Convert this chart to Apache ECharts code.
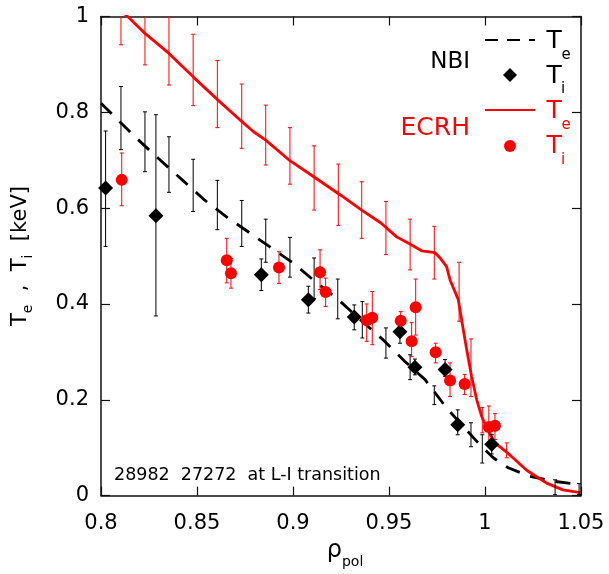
<!DOCTYPE html>
<html>
<head>
<meta charset="utf-8">
<script src="https://cdn.jsdelivr.net/npm/echarts/dist/echarts.min.js"></script>
<style>
  html, body { margin: 0; padding: 0; background: #fff; }
  #main { width: 609px; height: 574px; }
</style>
</head>
<body>
<div id="main"></div>
<script>
// NBI, electron temperature profile (dashed black)
const nbiTeRho = [0.800, 0.8177, 0.8298, 0.8423, 0.8542, 0.8663, 0.8776, 0.888, 0.9002, 0.9115, 0.9236, 0.934, 0.947, 0.9583, 0.9688, 0.980, 0.9885, 0.9974, 1.0043, 1.0121, 1.0234, 1.0356, 1.0495];
const nbiTe = [0.819, 0.749, 0.704, 0.659, 0.616, 0.579, 0.548, 0.519, 0.485, 0.447, 0.409, 0.371, 0.325, 0.280, 0.242, 0.183, 0.145, 0.106, 0.079, 0.058, 0.040, 0.030, 0.023];
// NBI Te error bars
const nbiTeErrRho = [0.8104, 0.8229, 0.8354, 0.848, 0.8606, 0.8733, 0.8858, 0.8984, 0.911, 0.9233, 0.9361, 0.9484, 0.961, 0.9736, 0.9927, 0.9986, 1.0365, 1.049];
const nbiTeErrLo = [0.722, 0.676, 0.633, 0.593, 0.555, 0.520, 0.487, 0.456, 0.411, 0.369, 0.329, 0.287, 0.242, 0.190, 0.102, 0.068, 0.002, 0.002];
const nbiTeErrHi = [0.854, 0.801, 0.749, 0.702, 0.658, 0.616, 0.577, 0.539, 0.496, 0.452, 0.405, 0.350, 0.294, 0.229, 0.152, 0.127, 0.033, 0.025];

// NBI, ion temperature (diamonds)
const nbiTiRho = [0.8024, 0.8286, 0.8835, 0.908, 0.9319, 0.9557, 0.9635, 0.9792, 0.9858, 1.0035];
const nbiTi = [0.642, 0.584, 0.461, 0.409, 0.373, 0.342, 0.268, 0.263, 0.148, 0.107];
const nbiTiLo = [0.520, 0.375, 0.428, 0.381, 0.346, 0.318, 0.252, 0.249, 0.127, 0.087];
const nbiTiHi = [0.761, 0.795, 0.494, 0.437, 0.398, 0.353, 0.285, 0.284, 0.179, 0.127];

// ECRH, electron temperature profile (red line)
const ecrhTeRho = [0.8104, 0.8139, 0.822, 0.8354, 0.848, 0.8608, 0.8733, 0.8793, 0.8858, 0.8984, 0.911, 0.9245, 0.9358, 0.9458, 0.954, 0.9609, 0.967, 0.974, 0.9766, 0.980, 0.9818, 0.9861, 0.9887, 0.9905, 0.993, 0.9957, 0.9983, 1.0013, 1.0052, 1.0121, 1.0217, 1.0321, 1.0406, 1.0495];
const ecrhTe = [1.012, 1.000, 0.968, 0.923, 0.874, 0.826, 0.781, 0.760, 0.742, 0.699, 0.665, 0.628, 0.596, 0.569, 0.540, 0.525, 0.511, 0.507, 0.496, 0.478, 0.450, 0.409, 0.346, 0.304, 0.249, 0.200, 0.165, 0.138, 0.110, 0.088, 0.053, 0.026, 0.012, 0.006];
// ECRH Te error bars
const ecrhTeErrRho = [0.8104, 0.8229, 0.8354, 0.848, 0.8606, 0.8733, 0.8858, 0.8984, 0.911, 0.9236, 0.9358, 0.9484, 0.961, 0.9736, 0.9865, 0.9927, 0.9986, 1.0113];
const ecrhTeErrLo = [0.941, 0.899, 0.857, 0.814, 0.768, 0.725, 0.690, 0.650, 0.596, 0.564, 0.537, 0.503, 0.471, 0.452, 0.364, 0.207, 0.131, 0.079];
const ecrhTeErrHi = [1.080, 1.030, 1.000, 0.963, 0.908, 0.859, 0.815, 0.768, 0.730, 0.692, 0.655, 0.614, 0.577, 0.562, 0.487, 0.327, 0.184, 0.110];

// ECRH, ion temperature (red dots)
const ecrhTiRho = [0.8108, 0.8655, 0.8677, 0.8927, 0.9141, 0.917, 0.9384, 0.9413, 0.9561, 0.9618, 0.9639, 0.9743, 0.9818, 0.9894, 1.002, 1.0052];
const ecrhTi = [0.659, 0.491, 0.464, 0.476, 0.466, 0.425, 0.366, 0.371, 0.365, 0.322, 0.393, 0.299, 0.240, 0.233, 0.143, 0.146];
const ecrhTiLo = [0.605, 0.444, 0.433, 0.443, 0.430, 0.395, 0.322, 0.315, 0.345, 0.290, 0.335, 0.277, 0.207, 0.211, 0.111, 0.117];
const ecrhTiHi = [0.715, 0.537, 0.495, 0.509, 0.513, 0.454, 0.400, 0.426, 0.384, 0.361, 0.452, 0.318, 0.277, 0.253, 0.187, 0.171];

const FONT = 'DejaVu Sans';

function zip(a, b) {
  return a.map(function (v, i) { return [v, b[i]]; });
}
function zip3(a, b, c) {
  return a.map(function (v, i) { return [v, b[i], c[i]]; });
}

// vertical error bar with small caps
function errorBar(color, cap) {
  return function (params, api) {
    var x = api.value(0);
    var lo = api.coord([x, api.value(1)]);
    var hi = api.coord([x, api.value(2)]);
    var st = { stroke: color, lineWidth: 1 };
    return {
      type: 'group',
      children: [
        { type: 'line', shape: { x1: lo[0], y1: lo[1], x2: hi[0], y2: hi[1] }, style: st },
        { type: 'line', shape: { x1: lo[0] - cap, y1: lo[1], x2: lo[0] + cap, y2: lo[1] }, style: st },
        { type: 'line', shape: { x1: hi[0] - cap, y1: hi[1], x2: hi[0] + cap, y2: hi[1] }, style: st }
      ]
    };
  };
}

function txt(x, y, s, size, color, align) {
  return {
    type: 'text', x: x, y: y, silent: true,
    style: {
      text: s, font: size + 'px "' + FONT + '"', fill: color,
      align: align || 'left', verticalAlign: 'middle',
      textAlign: align || 'left', textVerticalAlign: 'middle'
    }
  };
}

var chart = echarts.init(document.getElementById('main'));

var axisCommon = {
  type: 'value',
  axisLine: { show: true, onZero: false, lineStyle: { color: '#111', width: 1.5 } },
  axisTick: { show: true, inside: true, length: 9, lineStyle: { color: '#111', width: 1.2 } },
  splitLine: { show: false }
};

var option = {
  animation: false,
  backgroundColor: '#fff',
  grid: { left: 101, right: 28, top: 16.5, bottom: 78 },
  xAxis: [
    Object.assign({}, axisCommon, {
      position: 'bottom', min: 0.8, max: 1.05, interval: 0.05,
      axisLabel: { margin: 17, color: '#000', fontFamily: FONT, fontSize: 21 },
      name: '{a|ρ}{b|pol}',
      nameLocation: 'middle',
      nameGap: 34,
      nameTextStyle: {
        color: '#000', fontFamily: FONT, fontSize: 24, padding: [0, 0, 0, 8],
        rich: {
          a: { fontFamily: FONT, fontSize: 24, color: '#000' },
          b: { fontFamily: FONT, fontSize: 14, color: '#000', padding: [23, 0, 0, 0] }
        }
      }
    }),
    Object.assign({}, axisCommon, {
      position: 'top', min: 0.8, max: 1.05, interval: 0.05,
      axisLabel: { show: false }
    })
  ],
  yAxis: [
    Object.assign({}, axisCommon, {
      position: 'left', min: 0, max: 1, interval: 0.2,
      axisLabel: { margin: 12, color: '#000', fontFamily: FONT, fontSize: 21 },
      name: '{a|T}{b|e}{a|  ,  T}{b|i}{a|  [keV]}',
      nameLocation: 'middle',
      nameGap: 66,
      nameTextStyle: {
        color: '#000', fontFamily: FONT, fontSize: 21,
        rich: {
          a: { fontFamily: FONT, fontSize: 21, color: '#000' },
          b: { fontFamily: FONT, fontSize: 14, color: '#000', padding: [14, 0, 0, 0] }
        }
      }
    }),
    Object.assign({}, axisCommon, {
      position: 'right', min: 0, max: 1, interval: 0.2,
      axisLabel: { show: false }
    })
  ],
  series: [
    {
      name: 'NBI Te', type: 'line', data: zip(nbiTeRho, nbiTe),
      showSymbol: false, symbol: 'none', z: 2, silent: true,
      lineStyle: { color: '#000', width: 2.8, type: [15, 11] }
    },
    {
      name: 'ECRH Te', type: 'line', data: zip(ecrhTeRho, ecrhTe),
      showSymbol: false, symbol: 'none', z: 2, silent: true,
      lineStyle: { color: '#ff0000', width: 2.8 }
    },
    {
      type: 'custom', renderItem: errorBar('#000', 2), clip: true, z: 3, silent: true,
      data: zip3(nbiTeErrRho, nbiTeErrLo, nbiTeErrHi), encode: { x: 0, y: [1, 2] }
    },
    {
      type: 'custom', renderItem: errorBar('#ff0000', 2), clip: true, z: 3, silent: true,
      data: zip3(ecrhTeErrRho, ecrhTeErrLo, ecrhTeErrHi), encode: { x: 0, y: [1, 2] }
    },
    {
      type: 'custom', renderItem: errorBar('#000', 2), clip: true, z: 3, silent: true,
      data: zip3(nbiTiRho, nbiTiLo, nbiTiHi), encode: { x: 0, y: [1, 2] }
    },
    {
      type: 'custom', renderItem: errorBar('#ff0000', 2), clip: true, z: 3, silent: true,
      data: zip3(ecrhTiRho, ecrhTiLo, ecrhTiHi), encode: { x: 0, y: [1, 2] }
    },
    {
      name: 'NBI Ti', type: 'scatter', data: zip(nbiTiRho, nbiTi),
      symbol: 'diamond', symbolSize: 15, z: 4, silent: true,
      itemStyle: { color: '#000', opacity: 1 }
    },
    {
      name: 'ECRH Ti', type: 'scatter', data: zip(ecrhTiRho, ecrhTi),
      symbol: 'circle', symbolSize: 12, z: 4, silent: true,
      itemStyle: { color: '#ff0000', opacity: 1 }
    }
  ],
  graphic: [
    txt(470, 62, 'NBI', 23, '#000', 'right'),
    txt(470, 128.5, 'ECRH', 25, '#ff0000', 'right'),
    { type: 'line', silent: true, shape: { x1: 485, y1: 40, x2: 535, y2: 40 },
      style: { stroke: '#000', lineWidth: 2, lineDash: [13, 9] } },
    txt(546.5, 41, 'T', 25, '#000'),
    txt(561.5, 55, 'e', 15, '#000'),
    { type: 'polygon', silent: true, shape: { points: [[510, 68], [517, 75], [510, 82], [503, 75]] },
      style: { fill: '#000' } },
    txt(546.5, 76, 'T', 25, '#000'),
    txt(561, 89, 'i', 15, '#000'),
    { type: 'line', silent: true, shape: { x1: 485, y1: 110, x2: 535, y2: 110 },
      style: { stroke: '#ff0000', lineWidth: 2 } },
    txt(546.5, 111, 'T', 25, '#ff0000'),
    txt(561.5, 125.5, 'e', 15, '#ff0000'),
    { type: 'circle', silent: true, shape: { cx: 510, cy: 146, r: 6 }, style: { fill: '#ff0000' } },
    txt(546.5, 146.5, 'T', 25, '#ff0000'),
    txt(561, 160, 'i', 15, '#ff0000'),
    txt(114, 475.5, '28982  27272  at L-I transition', 17.5, '#000')
  ]
};

chart.setOption(option);
</script>
</body>
</html>
